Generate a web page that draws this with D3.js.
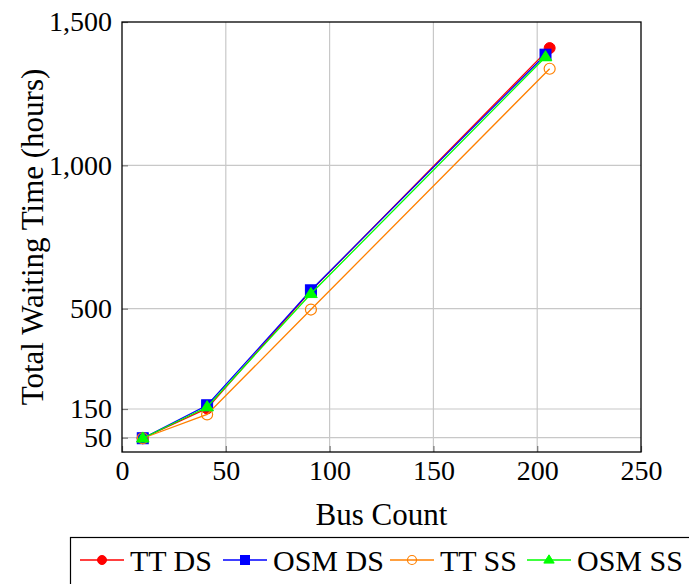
<!DOCTYPE html>
<html>
<head>
<meta charset="utf-8">
<script src="https://cdn.jsdelivr.net/npm/d3@7"></script>
<style>
  body { margin: 0; background: #fff; }
  text { font-family: "Liberation Serif", "DejaVu Serif", serif; fill: #000; }
</style>
</head>
<body>
<div id="chart"></div>
<script>
// data
var busCountTT = [10, 41, 91, 206],
    busCountOSM = [10, 41, 91, 204];

var ttDS  = [48, 152, 562, 1409],
    osmDS = [48, 163, 564, 1386],
    ttSS  = [48, 131, 497, 1337],
    osmSS = [48, 157, 552, 1378];

var xTicks = [0, 50, 100, 150, 200, 250],
    yTicks = [50, 150, 500, 1000, 1500];

var seriesNames = ["TT DS", "OSM DS", "TT SS", "OSM SS"],
    seriesColors = ["#ff0000", "#0000ff", "#ff8000", "#00ff00"],
    seriesMarks = ["dot", "square", "circle", "triangle"];

var width = 689, height = 584;
var plotLeft = 122, plotRight = 641, plotTop = 22, plotBottom = 452;
var tickFont = 28, labelFont = 31, legendFont = 30;

var series = [
  { name: seriesNames[0], x: busCountTT, y: ttDS },
  { name: seriesNames[1], x: busCountOSM, y: osmDS },
  { name: seriesNames[2], x: busCountTT, y: ttSS },
  { name: seriesNames[3], x: busCountOSM, y: osmSS }
];

var svg = d3.select("#chart").append("svg")
  .attr("width", width)
  .attr("height", height);

var x = d3.scaleLinear().domain([0, 250]).range([plotLeft, plotRight]);
var y = d3.scaleLinear().domain([0, 1500]).range([plotBottom, plotTop]);

// grid
var grid = svg.append("g");
grid.selectAll("line.gx").data(xTicks.slice(1, -1)).enter().append("line")
  .attr("x1", function(d) { return x(d); }).attr("x2", function(d) { return x(d); })
  .attr("y1", plotTop).attr("y2", plotBottom)
  .attr("stroke", "#c8c8c8").attr("stroke-width", 1.2);
grid.selectAll("line.gy").data(yTicks.slice(0, -1)).enter().append("line")
  .attr("y1", function(d) { return y(d); }).attr("y2", function(d) { return y(d); })
  .attr("x1", plotLeft).attr("x2", plotRight)
  .attr("stroke", "#c8c8c8").attr("stroke-width", 1.2);

// axes
var xAxis = svg.append("g")
  .attr("transform", "translate(0," + plotBottom + ")")
  .call(d3.axisBottom(x).tickValues(xTicks).tickSize(-6).tickPadding(8));
var yAxis = svg.append("g")
  .attr("transform", "translate(" + plotLeft + ",0)")
  .call(d3.axisLeft(y).tickValues(yTicks).tickSize(-6).tickPadding(10).tickFormat(d3.format(",")));

[xAxis, yAxis].forEach(function(a) {
  a.select(".domain").remove();
  a.selectAll(".tick line").attr("stroke", "#777").attr("stroke-width", 1.2);
  a.selectAll("text").style("font-size", tickFont + "px")
    .style("font-family", "'Liberation Serif', serif");
});

svg.append("rect")
  .attr("x", plotLeft).attr("y", plotTop)
  .attr("width", plotRight - plotLeft).attr("height", plotBottom - plotTop)
  .attr("fill", "none").attr("stroke", "#000").attr("stroke-width", 1.3);

// labels
svg.append("text")
  .attr("x", (plotLeft + plotRight) / 2).attr("y", 525)
  .attr("text-anchor", "middle")
  .style("font-size", labelFont + "px")
  .text("Bus Count");

svg.append("text")
  .attr("transform", "translate(43," + ((plotTop + plotBottom) / 2) + ") rotate(-90)")
  .attr("text-anchor", "middle")
  .style("font-size", labelFont + "px")
  .text("Total Waiting Time (hours)");

// marks
function drawMark(g, type, color, cx, cy, s) {
  if (type == "dot") {
    g.append("circle").attr("cx", cx).attr("cy", cy).attr("r", s)
      .attr("fill", color).attr("stroke", color);
  } else if (type == "square") {
    g.append("rect").attr("x", cx - s).attr("y", cy - s)
      .attr("width", 2 * s).attr("height", 2 * s)
      .attr("fill", color).attr("stroke", color);
  } else if (type == "circle") {
    g.append("circle").attr("cx", cx).attr("cy", cy).attr("r", s)
      .attr("fill", "none").attr("stroke", color).attr("stroke-width", 1.2);
  } else {
    var h = s * 1.15;
    g.append("path")
      .attr("d", "M" + cx + "," + (cy - h) + "L" + (cx + h) + "," + (cy + h * 0.6) + "L" + (cx - h) + "," + (cy + h * 0.6) + "Z")
      .attr("fill", color).attr("stroke", color);
  }
}

var line = d3.line()
  .x(function(d) { return x(d[0]); })
  .y(function(d) { return y(d[1]); });

series.forEach(function(s, i) {
  var pts = s.x.map(function(v, j) { return [v, s.y[j]]; });
  var g = svg.append("g");
  g.append("path").datum(pts)
    .attr("d", line)
    .attr("fill", "none")
    .attr("stroke", seriesColors[i])
    .attr("stroke-width", 1.3);
  pts.forEach(function(p) {
    drawMark(g, seriesMarks[i], seriesColors[i], x(p[0]), y(p[1]), 5.5);
  });
});

// legend
var legend = svg.append("g");
legend.append("rect")
  .attr("x", 70.5).attr("y", 537.5)
  .attr("width", 660).attr("height", 80)
  .attr("fill", "#fff").attr("stroke", "#000").attr("stroke-width", 1.2);

var legendX = [80, 223, 390, 527];
series.forEach(function(s, i) {
  var lx = legendX[i], ly = 560;
  legend.append("line")
    .attr("x1", lx).attr("x2", lx + 44)
    .attr("y1", ly).attr("y2", ly)
    .attr("stroke", seriesColors[i]).attr("stroke-width", 1.3);
  drawMark(legend, seriesMarks[i], seriesColors[i], lx + 22, ly, 4.5);
  legend.append("text")
    .attr("x", lx + 50).attr("y", ly)
    .attr("dy", "0.35em")
    .style("font-size", legendFont + "px")
    .text(s.name);
});
</script>
</body>
</html>
